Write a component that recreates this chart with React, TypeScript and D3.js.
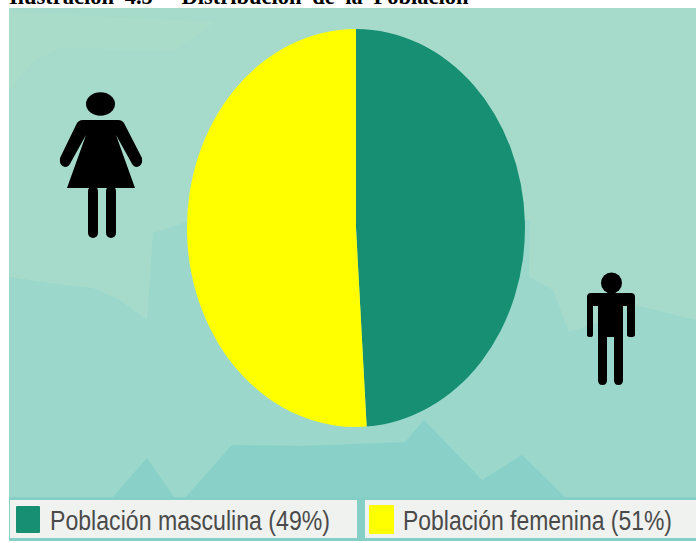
import React from "react";
import * as d3 from "d3";

const W = 696, H = 543;
const categories = ["Población masculina", "Población femenina"];
const values = [49, 51];
const colors = ["#168f73", "#ffff00"];
const title = "Ilustración 4.5 - Distribución de la Población";

const terrainBack = "M9 277 L50 283 L93 288 L120 300 L147 320 L153 233 L178 225 L190 220 L530 220 L529 277 L553 290 L569 332 L600 322 L635 305 L696 320 L696 503 L9 503 Z";
const terrainTopLight = "M35 60 L60 48 L175 50 L215 22 L9 12 L9 90 Z";
const terrainFront = "M110 500 L147 458 L176 500 Z M183 500 L232 445 L300 446 L405 442 L424 420 L482 480 L522 455 L568 500 Z";

function Woman() {
  return (
    <g fill="#000">
      <ellipse cx={100.5} cy={104} rx={14.5} ry={11.7} />
      <path d="M83 120 L118 120 Q123 120 125 125 L142 158 Q143 166 137 167 Q133 167 131 162 L116 135 L135 188 L67 188 L86 135 L71 162 Q69 167 65 167 Q59 166 60 158 L76 125 Q78 120 83 120 Z" />
      <rect x={88} y={186} width={10} height={52} rx={5} />
      <rect x={106} y={186} width={10} height={52} rx={5} />
    </g>
  );
}

function Man() {
  return (
    <g fill="#000">
      <circle cx={611.5} cy={283} r={10.5} />
      <path d="M591 293 L631 293 Q635 293 635 297 L635 335 Q635 337 631 337 Q627 337 627 335 L627 306 L623 306 L623 380 Q623 385 618.5 385 Q614 385 614 380 L614 337 L607 337 L607 380 Q607 385 602.5 385 Q598 385 598 380 L598 306 L593 306 L593 335 Q593 337 590 337 Q587 337 587 335 L587 297 Q587 293 591 293 Z" />
    </g>
  );
}

export default function App() {
  const cx = 356, cy = 228, rx = 169, ry = 199;
  const pie = d3.pie<number>().sort(null).value((d) => d)(values);
  const arc = d3.arc<d3.PieArcDatum<number>>().innerRadius(0).outerRadius(1);
  const legend = [
    { bx: 10, bw: 347, sx: 16, sy: 506, sw: 24, sh: 27, tx: 50, tw: 280 },
    { bx: 365, bw: 331, sx: 369, sy: 505, sw: 25, sh: 29, tx: 403, tw: 269 },
  ];
  return (
    <svg
      width={W}
      height={H}
      style={{ position: "absolute", left: 0, top: 0 }}
      viewBox={`0 0 ${W} ${H}`}
    >
      <rect width={W} height={H} fill="#fff" />
      <text
        x={9}
        y={3.5}
        fontFamily="Liberation Serif"
        fontWeight="bold"
        fontSize={22.5}
        wordSpacing={5}
        fill="#000"
      >
        {title}
      </text>
      <rect x={9} y={8} width={687} height={533} fill="#a6dbcb" />
      <path d={terrainTopLight} fill="#aadcca" />
      <path d={terrainBack} fill="#9bd7cb" />
      <path d={terrainFront} fill="#89d1c8" />
      <rect x={9} y={497} width={687} height={44} fill="#86cfc7" />
      <g transform={`translate(${cx},${cy}) scale(${rx},${ry})`}>
        {pie.map((d, i) => (
          <path key={categories[i]} d={arc(d) ?? ""} fill={colors[i]} />
        ))}
      </g>
      <Woman />
      <Man />
      {legend.map((l, i) => (
        <g key={categories[i]}>
          <rect x={l.bx} y={500} width={l.bw} height={38} fill="#f0f2f0" />
          <rect x={l.sx} y={l.sy} width={l.sw} height={l.sh} rx={1} fill={colors[i]} />
          <text
            x={l.tx}
            y={530}
            fontFamily="Liberation Sans"
            fontSize={27}
            textLength={l.tw}
            lengthAdjust="spacingAndGlyphs"
            fill="#4a4a4a"
          >
            {`${categories[i]} (${values[i]}%)`}
          </text>
        </g>
      ))}
    </svg>
  );
}
